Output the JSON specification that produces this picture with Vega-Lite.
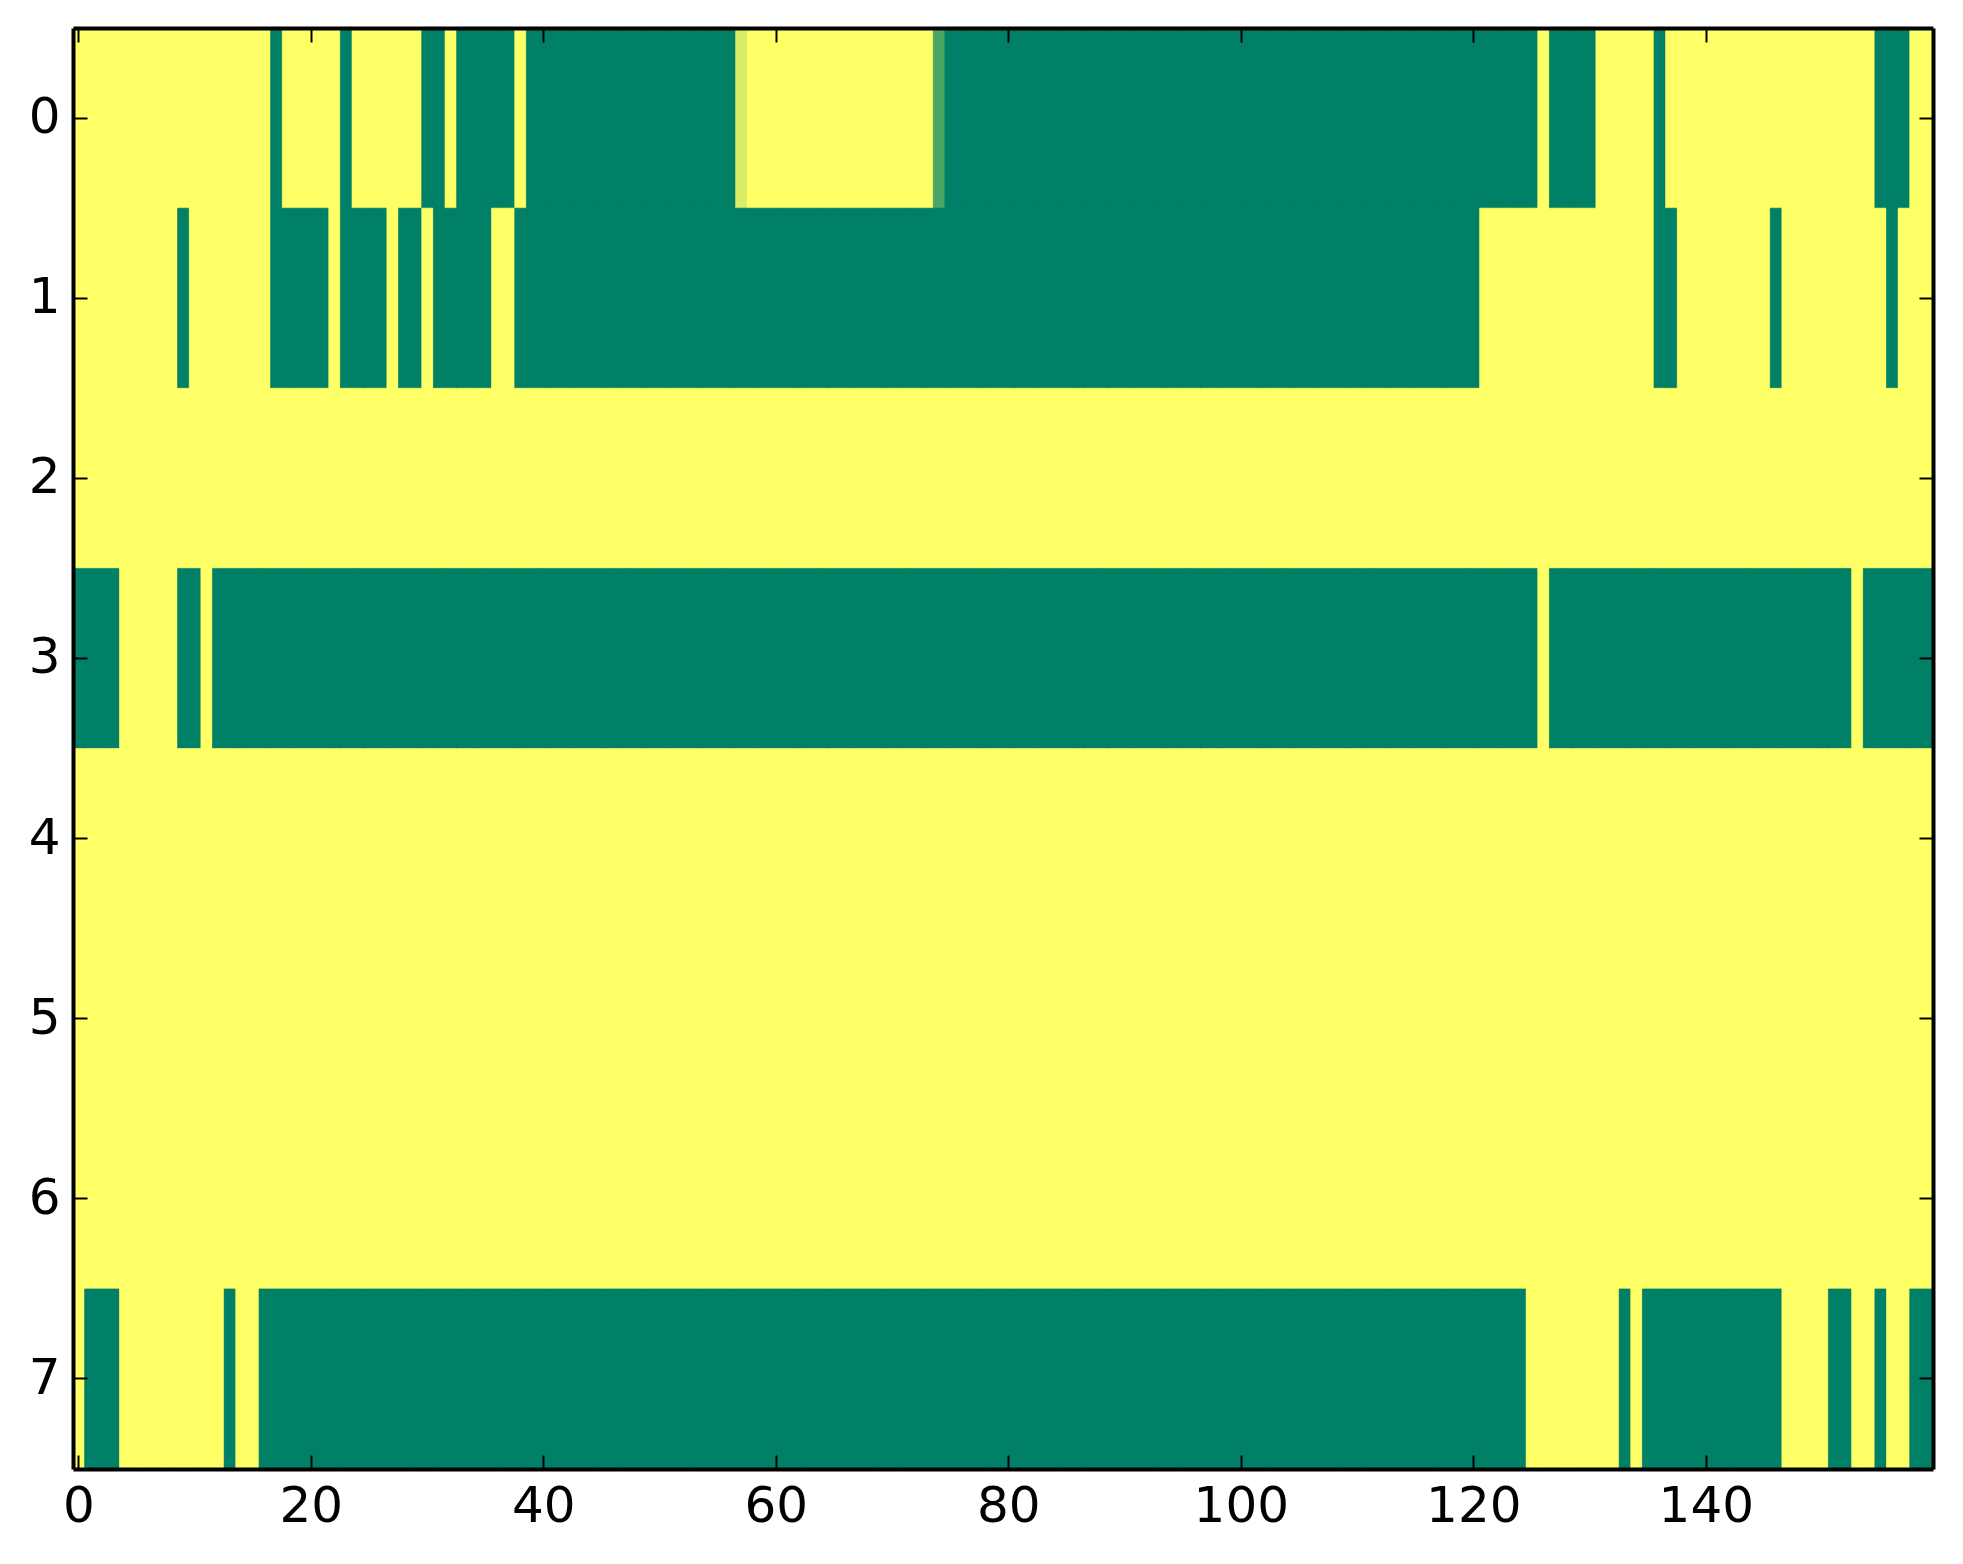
{
  "$schema": "https://vega.github.io/schema/vega-lite/v6.json",
  "width": 1860,
  "height": 1441,
  "autosize": "none",
  "padding": {"left": 73, "top": 28, "right": 30, "bottom": 95},
  "background": "white",
  "data": {
    "values": [
      {"c":0,"r0":1,"r1":1,"r2":1,"r3":0,"r4":1,"r5":1,"r6":1,"r7":1},
      {"c":1,"r0":1,"r1":1,"r2":1,"r3":0,"r4":1,"r5":1,"r6":1,"r7":0},
      {"c":2,"r0":1,"r1":1,"r2":1,"r3":0,"r4":1,"r5":1,"r6":1,"r7":0},
      {"c":3,"r0":1,"r1":1,"r2":1,"r3":0,"r4":1,"r5":1,"r6":1,"r7":0},
      {"c":4,"r0":1,"r1":1,"r2":1,"r3":1,"r4":1,"r5":1,"r6":1,"r7":1},
      {"c":5,"r0":1,"r1":1,"r2":1,"r3":1,"r4":1,"r5":1,"r6":1,"r7":1},
      {"c":6,"r0":1,"r1":1,"r2":1,"r3":1,"r4":1,"r5":1,"r6":1,"r7":1},
      {"c":7,"r0":1,"r1":1,"r2":1,"r3":1,"r4":1,"r5":1,"r6":1,"r7":1},
      {"c":8,"r0":1,"r1":1,"r2":1,"r3":1,"r4":1,"r5":1,"r6":1,"r7":1},
      {"c":9,"r0":1,"r1":0,"r2":1,"r3":0,"r4":1,"r5":1,"r6":1,"r7":1},
      {"c":10,"r0":1,"r1":1,"r2":1,"r3":0,"r4":1,"r5":1,"r6":1,"r7":1},
      {"c":11,"r0":1,"r1":1,"r2":1,"r3":1,"r4":1,"r5":1,"r6":1,"r7":1},
      {"c":12,"r0":1,"r1":1,"r2":1,"r3":0,"r4":1,"r5":1,"r6":1,"r7":1},
      {"c":13,"r0":1,"r1":1,"r2":1,"r3":0,"r4":1,"r5":1,"r6":1,"r7":0},
      {"c":14,"r0":1,"r1":1,"r2":1,"r3":0,"r4":1,"r5":1,"r6":1,"r7":1},
      {"c":15,"r0":1,"r1":1,"r2":1,"r3":0,"r4":1,"r5":1,"r6":1,"r7":1},
      {"c":16,"r0":1,"r1":1,"r2":1,"r3":0,"r4":1,"r5":1,"r6":1,"r7":0},
      {"c":17,"r0":0,"r1":0,"r2":1,"r3":0,"r4":1,"r5":1,"r6":1,"r7":0},
      {"c":18,"r0":1,"r1":0,"r2":1,"r3":0,"r4":1,"r5":1,"r6":1,"r7":0},
      {"c":19,"r0":1,"r1":0,"r2":1,"r3":0,"r4":1,"r5":1,"r6":1,"r7":0},
      {"c":20,"r0":1,"r1":0,"r2":1,"r3":0,"r4":1,"r5":1,"r6":1,"r7":0},
      {"c":21,"r0":1,"r1":0,"r2":1,"r3":0,"r4":1,"r5":1,"r6":1,"r7":0},
      {"c":22,"r0":1,"r1":1,"r2":1,"r3":0,"r4":1,"r5":1,"r6":1,"r7":0},
      {"c":23,"r0":0,"r1":0,"r2":1,"r3":0,"r4":1,"r5":1,"r6":1,"r7":0},
      {"c":24,"r0":1,"r1":0,"r2":1,"r3":0,"r4":1,"r5":1,"r6":1,"r7":0},
      {"c":25,"r0":1,"r1":0,"r2":1,"r3":0,"r4":1,"r5":1,"r6":1,"r7":0},
      {"c":26,"r0":1,"r1":0,"r2":1,"r3":0,"r4":1,"r5":1,"r6":1,"r7":0},
      {"c":27,"r0":1,"r1":1,"r2":1,"r3":0,"r4":1,"r5":1,"r6":1,"r7":0},
      {"c":28,"r0":1,"r1":0,"r2":1,"r3":0,"r4":1,"r5":1,"r6":1,"r7":0},
      {"c":29,"r0":1,"r1":0,"r2":1,"r3":0,"r4":1,"r5":1,"r6":1,"r7":0},
      {"c":30,"r0":0,"r1":1,"r2":1,"r3":0,"r4":1,"r5":1,"r6":1,"r7":0},
      {"c":31,"r0":0,"r1":0,"r2":1,"r3":0,"r4":1,"r5":1,"r6":1,"r7":0},
      {"c":32,"r0":1,"r1":0,"r2":1,"r3":0,"r4":1,"r5":1,"r6":1,"r7":0},
      {"c":33,"r0":0,"r1":0,"r2":1,"r3":0,"r4":1,"r5":1,"r6":1,"r7":0},
      {"c":34,"r0":0,"r1":0,"r2":1,"r3":0,"r4":1,"r5":1,"r6":1,"r7":0},
      {"c":35,"r0":0,"r1":0,"r2":1,"r3":0,"r4":1,"r5":1,"r6":1,"r7":0},
      {"c":36,"r0":0,"r1":1,"r2":1,"r3":0,"r4":1,"r5":1,"r6":1,"r7":0},
      {"c":37,"r0":0,"r1":1,"r2":1,"r3":0,"r4":1,"r5":1,"r6":1,"r7":0},
      {"c":38,"r0":1,"r1":0,"r2":1,"r3":0,"r4":1,"r5":1,"r6":1,"r7":0},
      {"c":39,"r0":0,"r1":0,"r2":1,"r3":0,"r4":1,"r5":1,"r6":1,"r7":0},
      {"c":40,"r0":0,"r1":0,"r2":1,"r3":0,"r4":1,"r5":1,"r6":1,"r7":0},
      {"c":41,"r0":0,"r1":0,"r2":1,"r3":0,"r4":1,"r5":1,"r6":1,"r7":0},
      {"c":42,"r0":0,"r1":0,"r2":1,"r3":0,"r4":1,"r5":1,"r6":1,"r7":0},
      {"c":43,"r0":0,"r1":0,"r2":1,"r3":0,"r4":1,"r5":1,"r6":1,"r7":0},
      {"c":44,"r0":0,"r1":0,"r2":1,"r3":0,"r4":1,"r5":1,"r6":1,"r7":0},
      {"c":45,"r0":0,"r1":0,"r2":1,"r3":0,"r4":1,"r5":1,"r6":1,"r7":0},
      {"c":46,"r0":0,"r1":0,"r2":1,"r3":0,"r4":1,"r5":1,"r6":1,"r7":0},
      {"c":47,"r0":0,"r1":0,"r2":1,"r3":0,"r4":1,"r5":1,"r6":1,"r7":0},
      {"c":48,"r0":0,"r1":0,"r2":1,"r3":0,"r4":1,"r5":1,"r6":1,"r7":0},
      {"c":49,"r0":0,"r1":0,"r2":1,"r3":0,"r4":1,"r5":1,"r6":1,"r7":0},
      {"c":50,"r0":0,"r1":0,"r2":1,"r3":0,"r4":1,"r5":1,"r6":1,"r7":0},
      {"c":51,"r0":0,"r1":0,"r2":1,"r3":0,"r4":1,"r5":1,"r6":1,"r7":0},
      {"c":52,"r0":0,"r1":0,"r2":1,"r3":0,"r4":1,"r5":1,"r6":1,"r7":0},
      {"c":53,"r0":0,"r1":0,"r2":1,"r3":0,"r4":1,"r5":1,"r6":1,"r7":0},
      {"c":54,"r0":0,"r1":0,"r2":1,"r3":0,"r4":1,"r5":1,"r6":1,"r7":0},
      {"c":55,"r0":0,"r1":0,"r2":1,"r3":0,"r4":1,"r5":1,"r6":1,"r7":0},
      {"c":56,"r0":0,"r1":0,"r2":1,"r3":0,"r4":1,"r5":1,"r6":1,"r7":0},
      {"c":57,"r0":0.86,"r1":0,"r2":1,"r3":0,"r4":1,"r5":1,"r6":1,"r7":0},
      {"c":58,"r0":1,"r1":0,"r2":1,"r3":0,"r4":1,"r5":1,"r6":1,"r7":0},
      {"c":59,"r0":1,"r1":0,"r2":1,"r3":0,"r4":1,"r5":1,"r6":1,"r7":0},
      {"c":60,"r0":1,"r1":0,"r2":1,"r3":0,"r4":1,"r5":1,"r6":1,"r7":0},
      {"c":61,"r0":1,"r1":0,"r2":1,"r3":0,"r4":1,"r5":1,"r6":1,"r7":0},
      {"c":62,"r0":1,"r1":0,"r2":1,"r3":0,"r4":1,"r5":1,"r6":1,"r7":0},
      {"c":63,"r0":1,"r1":0,"r2":1,"r3":0,"r4":1,"r5":1,"r6":1,"r7":0},
      {"c":64,"r0":1,"r1":0,"r2":1,"r3":0,"r4":1,"r5":1,"r6":1,"r7":0},
      {"c":65,"r0":1,"r1":0,"r2":1,"r3":0,"r4":1,"r5":1,"r6":1,"r7":0},
      {"c":66,"r0":1,"r1":0,"r2":1,"r3":0,"r4":1,"r5":1,"r6":1,"r7":0},
      {"c":67,"r0":1,"r1":0,"r2":1,"r3":0,"r4":1,"r5":1,"r6":1,"r7":0},
      {"c":68,"r0":1,"r1":0,"r2":1,"r3":0,"r4":1,"r5":1,"r6":1,"r7":0},
      {"c":69,"r0":1,"r1":0,"r2":1,"r3":0,"r4":1,"r5":1,"r6":1,"r7":0},
      {"c":70,"r0":1,"r1":0,"r2":1,"r3":0,"r4":1,"r5":1,"r6":1,"r7":0},
      {"c":71,"r0":1,"r1":0,"r2":1,"r3":0,"r4":1,"r5":1,"r6":1,"r7":0},
      {"c":72,"r0":1,"r1":0,"r2":1,"r3":0,"r4":1,"r5":1,"r6":1,"r7":0},
      {"c":73,"r0":1,"r1":0,"r2":1,"r3":0,"r4":1,"r5":1,"r6":1,"r7":0},
      {"c":74,"r0":0.29,"r1":0,"r2":1,"r3":0,"r4":1,"r5":1,"r6":1,"r7":0},
      {"c":75,"r0":0,"r1":0,"r2":1,"r3":0,"r4":1,"r5":1,"r6":1,"r7":0},
      {"c":76,"r0":0,"r1":0,"r2":1,"r3":0,"r4":1,"r5":1,"r6":1,"r7":0},
      {"c":77,"r0":0,"r1":0,"r2":1,"r3":0,"r4":1,"r5":1,"r6":1,"r7":0},
      {"c":78,"r0":0,"r1":0,"r2":1,"r3":0,"r4":1,"r5":1,"r6":1,"r7":0},
      {"c":79,"r0":0,"r1":0,"r2":1,"r3":0,"r4":1,"r5":1,"r6":1,"r7":0},
      {"c":80,"r0":0,"r1":0,"r2":1,"r3":0,"r4":1,"r5":1,"r6":1,"r7":0},
      {"c":81,"r0":0,"r1":0,"r2":1,"r3":0,"r4":1,"r5":1,"r6":1,"r7":0},
      {"c":82,"r0":0,"r1":0,"r2":1,"r3":0,"r4":1,"r5":1,"r6":1,"r7":0},
      {"c":83,"r0":0,"r1":0,"r2":1,"r3":0,"r4":1,"r5":1,"r6":1,"r7":0},
      {"c":84,"r0":0,"r1":0,"r2":1,"r3":0,"r4":1,"r5":1,"r6":1,"r7":0},
      {"c":85,"r0":0,"r1":0,"r2":1,"r3":0,"r4":1,"r5":1,"r6":1,"r7":0},
      {"c":86,"r0":0,"r1":0,"r2":1,"r3":0,"r4":1,"r5":1,"r6":1,"r7":0},
      {"c":87,"r0":0,"r1":0,"r2":1,"r3":0,"r4":1,"r5":1,"r6":1,"r7":0},
      {"c":88,"r0":0,"r1":0,"r2":1,"r3":0,"r4":1,"r5":1,"r6":1,"r7":0},
      {"c":89,"r0":0,"r1":0,"r2":1,"r3":0,"r4":1,"r5":1,"r6":1,"r7":0},
      {"c":90,"r0":0,"r1":0,"r2":1,"r3":0,"r4":1,"r5":1,"r6":1,"r7":0},
      {"c":91,"r0":0,"r1":0,"r2":1,"r3":0,"r4":1,"r5":1,"r6":1,"r7":0},
      {"c":92,"r0":0,"r1":0,"r2":1,"r3":0,"r4":1,"r5":1,"r6":1,"r7":0},
      {"c":93,"r0":0,"r1":0,"r2":1,"r3":0,"r4":1,"r5":1,"r6":1,"r7":0},
      {"c":94,"r0":0,"r1":0,"r2":1,"r3":0,"r4":1,"r5":1,"r6":1,"r7":0},
      {"c":95,"r0":0,"r1":0,"r2":1,"r3":0,"r4":1,"r5":1,"r6":1,"r7":0},
      {"c":96,"r0":0,"r1":0,"r2":1,"r3":0,"r4":1,"r5":1,"r6":1,"r7":0},
      {"c":97,"r0":0,"r1":0,"r2":1,"r3":0,"r4":1,"r5":1,"r6":1,"r7":0},
      {"c":98,"r0":0,"r1":0,"r2":1,"r3":0,"r4":1,"r5":1,"r6":1,"r7":0},
      {"c":99,"r0":0,"r1":0,"r2":1,"r3":0,"r4":1,"r5":1,"r6":1,"r7":0},
      {"c":100,"r0":0,"r1":0,"r2":1,"r3":0,"r4":1,"r5":1,"r6":1,"r7":0},
      {"c":101,"r0":0,"r1":0,"r2":1,"r3":0,"r4":1,"r5":1,"r6":1,"r7":0},
      {"c":102,"r0":0,"r1":0,"r2":1,"r3":0,"r4":1,"r5":1,"r6":1,"r7":0},
      {"c":103,"r0":0,"r1":0,"r2":1,"r3":0,"r4":1,"r5":1,"r6":1,"r7":0},
      {"c":104,"r0":0,"r1":0,"r2":1,"r3":0,"r4":1,"r5":1,"r6":1,"r7":0},
      {"c":105,"r0":0,"r1":0,"r2":1,"r3":0,"r4":1,"r5":1,"r6":1,"r7":0},
      {"c":106,"r0":0,"r1":0,"r2":1,"r3":0,"r4":1,"r5":1,"r6":1,"r7":0},
      {"c":107,"r0":0,"r1":0,"r2":1,"r3":0,"r4":1,"r5":1,"r6":1,"r7":0},
      {"c":108,"r0":0,"r1":0,"r2":1,"r3":0,"r4":1,"r5":1,"r6":1,"r7":0},
      {"c":109,"r0":0,"r1":0,"r2":1,"r3":0,"r4":1,"r5":1,"r6":1,"r7":0},
      {"c":110,"r0":0,"r1":0,"r2":1,"r3":0,"r4":1,"r5":1,"r6":1,"r7":0},
      {"c":111,"r0":0,"r1":0,"r2":1,"r3":0,"r4":1,"r5":1,"r6":1,"r7":0},
      {"c":112,"r0":0,"r1":0,"r2":1,"r3":0,"r4":1,"r5":1,"r6":1,"r7":0},
      {"c":113,"r0":0,"r1":0,"r2":1,"r3":0,"r4":1,"r5":1,"r6":1,"r7":0},
      {"c":114,"r0":0,"r1":0,"r2":1,"r3":0,"r4":1,"r5":1,"r6":1,"r7":0},
      {"c":115,"r0":0,"r1":0,"r2":1,"r3":0,"r4":1,"r5":1,"r6":1,"r7":0},
      {"c":116,"r0":0,"r1":0,"r2":1,"r3":0,"r4":1,"r5":1,"r6":1,"r7":0},
      {"c":117,"r0":0,"r1":0,"r2":1,"r3":0,"r4":1,"r5":1,"r6":1,"r7":0},
      {"c":118,"r0":0,"r1":0,"r2":1,"r3":0,"r4":1,"r5":1,"r6":1,"r7":0},
      {"c":119,"r0":0,"r1":0,"r2":1,"r3":0,"r4":1,"r5":1,"r6":1,"r7":0},
      {"c":120,"r0":0,"r1":0,"r2":1,"r3":0,"r4":1,"r5":1,"r6":1,"r7":0},
      {"c":121,"r0":0,"r1":1,"r2":1,"r3":0,"r4":1,"r5":1,"r6":1,"r7":0},
      {"c":122,"r0":0,"r1":1,"r2":1,"r3":0,"r4":1,"r5":1,"r6":1,"r7":0},
      {"c":123,"r0":0,"r1":1,"r2":1,"r3":0,"r4":1,"r5":1,"r6":1,"r7":0},
      {"c":124,"r0":0,"r1":1,"r2":1,"r3":0,"r4":1,"r5":1,"r6":1,"r7":0},
      {"c":125,"r0":0,"r1":1,"r2":1,"r3":0,"r4":1,"r5":1,"r6":1,"r7":1},
      {"c":126,"r0":1,"r1":1,"r2":1,"r3":1,"r4":1,"r5":1,"r6":1,"r7":1},
      {"c":127,"r0":0,"r1":1,"r2":1,"r3":0,"r4":1,"r5":1,"r6":1,"r7":1},
      {"c":128,"r0":0,"r1":1,"r2":1,"r3":0,"r4":1,"r5":1,"r6":1,"r7":1},
      {"c":129,"r0":0,"r1":1,"r2":1,"r3":0,"r4":1,"r5":1,"r6":1,"r7":1},
      {"c":130,"r0":0,"r1":1,"r2":1,"r3":0,"r4":1,"r5":1,"r6":1,"r7":1},
      {"c":131,"r0":1,"r1":1,"r2":1,"r3":0,"r4":1,"r5":1,"r6":1,"r7":1},
      {"c":132,"r0":1,"r1":1,"r2":1,"r3":0,"r4":1,"r5":1,"r6":1,"r7":1},
      {"c":133,"r0":1,"r1":1,"r2":1,"r3":0,"r4":1,"r5":1,"r6":1,"r7":0},
      {"c":134,"r0":1,"r1":1,"r2":1,"r3":0,"r4":1,"r5":1,"r6":1,"r7":1},
      {"c":135,"r0":1,"r1":1,"r2":1,"r3":0,"r4":1,"r5":1,"r6":1,"r7":0},
      {"c":136,"r0":0,"r1":0,"r2":1,"r3":0,"r4":1,"r5":1,"r6":1,"r7":0},
      {"c":137,"r0":1,"r1":0,"r2":1,"r3":0,"r4":1,"r5":1,"r6":1,"r7":0},
      {"c":138,"r0":1,"r1":1,"r2":1,"r3":0,"r4":1,"r5":1,"r6":1,"r7":0},
      {"c":139,"r0":1,"r1":1,"r2":1,"r3":0,"r4":1,"r5":1,"r6":1,"r7":0},
      {"c":140,"r0":1,"r1":1,"r2":1,"r3":0,"r4":1,"r5":1,"r6":1,"r7":0},
      {"c":141,"r0":1,"r1":1,"r2":1,"r3":0,"r4":1,"r5":1,"r6":1,"r7":0},
      {"c":142,"r0":1,"r1":1,"r2":1,"r3":0,"r4":1,"r5":1,"r6":1,"r7":0},
      {"c":143,"r0":1,"r1":1,"r2":1,"r3":0,"r4":1,"r5":1,"r6":1,"r7":0},
      {"c":144,"r0":1,"r1":1,"r2":1,"r3":0,"r4":1,"r5":1,"r6":1,"r7":0},
      {"c":145,"r0":1,"r1":1,"r2":1,"r3":0,"r4":1,"r5":1,"r6":1,"r7":0},
      {"c":146,"r0":1,"r1":0,"r2":1,"r3":0,"r4":1,"r5":1,"r6":1,"r7":0},
      {"c":147,"r0":1,"r1":1,"r2":1,"r3":0,"r4":1,"r5":1,"r6":1,"r7":1},
      {"c":148,"r0":1,"r1":1,"r2":1,"r3":0,"r4":1,"r5":1,"r6":1,"r7":1},
      {"c":149,"r0":1,"r1":1,"r2":1,"r3":0,"r4":1,"r5":1,"r6":1,"r7":1},
      {"c":150,"r0":1,"r1":1,"r2":1,"r3":0,"r4":1,"r5":1,"r6":1,"r7":1},
      {"c":151,"r0":1,"r1":1,"r2":1,"r3":0,"r4":1,"r5":1,"r6":1,"r7":0},
      {"c":152,"r0":1,"r1":1,"r2":1,"r3":0,"r4":1,"r5":1,"r6":1,"r7":0},
      {"c":153,"r0":1,"r1":1,"r2":1,"r3":1,"r4":1,"r5":1,"r6":1,"r7":1},
      {"c":154,"r0":1,"r1":1,"r2":1,"r3":0,"r4":1,"r5":1,"r6":1,"r7":1},
      {"c":155,"r0":0,"r1":1,"r2":1,"r3":0,"r4":1,"r5":1,"r6":1,"r7":0},
      {"c":156,"r0":0,"r1":0,"r2":1,"r3":0,"r4":1,"r5":1,"r6":1,"r7":1},
      {"c":157,"r0":0,"r1":1,"r2":1,"r3":0,"r4":1,"r5":1,"r6":1,"r7":1},
      {"c":158,"r0":1,"r1":1,"r2":1,"r3":0,"r4":1,"r5":1,"r6":1,"r7":0},
      {"c":159,"r0":1,"r1":1,"r2":1,"r3":0,"r4":1,"r5":1,"r6":1,"r7":0}
    ]
  },
  "transform": [
    {"fold": ["r0", "r1", "r2", "r3", "r4", "r5", "r6", "r7"], "as": ["row", "v"]}
  ],
  "encoding": {
    "color": {
      "field": "v",
      "type": "quantitative",
      "scale": {"domain": [0, 1], "range": ["#008066", "#ffff66"], "interpolate": "rgb"},
      "legend": null
    },
    "stroke": {
      "field": "v",
      "type": "quantitative",
      "scale": {"domain": [0, 1], "range": ["#008066", "#ffff66"], "interpolate": "rgb"},
      "legend": null
    }
  },
  "layer": [
    {
      "mark": {"type": "rect", "strokeWidth": 0.6},
      "encoding": {
        "x": {
          "field": "c",
          "type": "ordinal",
          "scale": {"paddingInner": 0, "paddingOuter": 0},
          "axis": {
            "orient": "bottom",
            "values": [0, 20, 40, 60, 80, 100, 120, 140],
            "labelAngle": 0,
            "title": null,
            "tickSize": -14,
            "tickWidth": 2,
            "tickColor": "black",
            "domainColor": "black",
            "domainWidth": 4,
            "labelFont": "DejaVu Sans",
            "labelFontSize": 50,
            "labelColor": "black",
            "labelPadding": 26,
            "zindex": 1
          }
        },
        "y": {
          "field": "row",
          "type": "ordinal",
          "scale": {"paddingInner": 0, "paddingOuter": 0},
          "axis": {
            "orient": "left",
            "title": null,
            "labelExpr": "substring(datum.label, 1)",
            "tickSize": -14,
            "tickWidth": 2,
            "tickColor": "black",
            "domainColor": "black",
            "domainWidth": 4,
            "labelFont": "DejaVu Sans",
            "labelFontSize": 50,
            "labelColor": "black",
            "labelPadding": 27,
            "zindex": 1
          }
        }
      }
    },
    {
      "mark": {"type": "rect", "strokeWidth": 0.6},
      "encoding": {
        "x": {
          "field": "c",
          "type": "ordinal",
          "scale": {"paddingInner": 0, "paddingOuter": 0},
          "axis": {
            "orient": "top",
            "values": [0, 20, 40, 60, 80, 100, 120, 140],
            "labels": false,
            "title": null,
            "tickSize": -14,
            "tickWidth": 2,
            "tickColor": "black",
            "domainColor": "black",
            "domainWidth": 4,
            "zindex": 1
          }
        },
        "y": {
          "field": "row",
          "type": "ordinal",
          "scale": {"paddingInner": 0, "paddingOuter": 0},
          "axis": {
            "orient": "right",
            "labels": false,
            "title": null,
            "tickSize": -14,
            "tickWidth": 2,
            "tickColor": "black",
            "domainColor": "black",
            "domainWidth": 4,
            "zindex": 1
          }
        }
      }
    }
  ],
  "resolve": {"axis": {"x": "independent", "y": "independent"}},
  "config": {"view": {"stroke": null}}
}
